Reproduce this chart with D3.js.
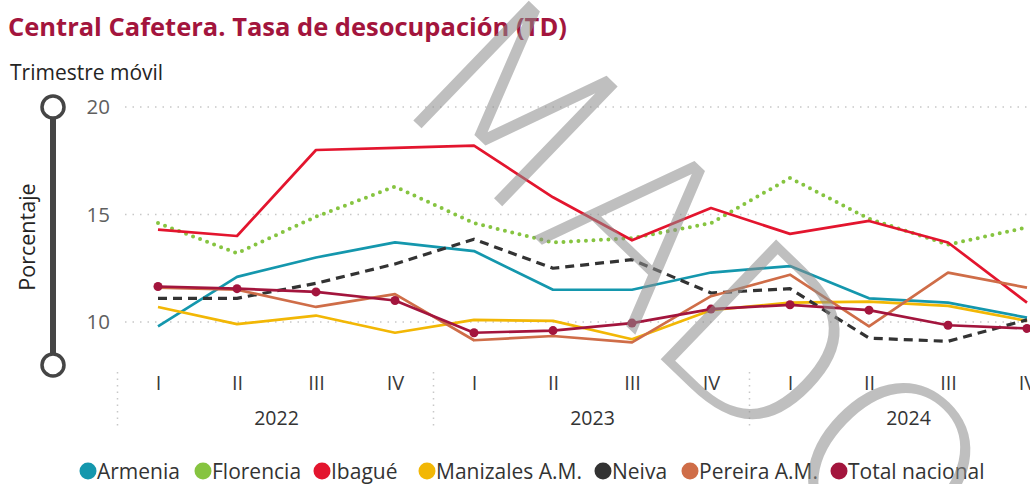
<!DOCTYPE html>
<html>
<head>
<meta charset="utf-8">
<script src="https://cdn.jsdelivr.net/npm/d3@7"></script>
<style>
  html, body { margin: 0; padding: 0; background: #fff; overflow: hidden; }
  svg { display: block; font-family: "Open Sans", "Liberation Sans", sans-serif; }
</style>
</head>
<body>
<svg id="chart" width="1080" height="484"></svg>
<script>
// quarters shown on the x axis
var quarters = ["I", "II", "III", "IV", "I", "II", "III", "IV", "I", "II", "III", "IV"];
var years = ["2022", "2023", "2024"];
var yTicks = [10, 15, 20];

// tasa de desocupacion, trimestre movil (%)
var armenia     = [9.8, 12.1, 13.0, 13.7, 13.3, 11.5, 11.5, 12.3, 12.6, 11.1, 10.9, 10.2];
var florencia   = [14.6, 13.2, 14.9, 16.3, 14.6, 13.7, 13.9, 14.6, 16.7, 14.8, 13.6, 14.4];
var ibague      = [14.3, 14.0, 18.0, 18.1, 18.2, 15.8, 13.8, 15.3, 14.1, 14.7, 13.7, 10.9];
var manizales   = [10.7, 9.9, 10.3, 9.5, 10.1, 10.05, 9.2, 10.55, 10.9, 10.95, 10.75, 10.05];
var neiva       = [11.1, 11.1, 11.8, 12.7, 13.85, 12.5, 12.9, 11.35, 11.55, 9.25, 9.1, 10.1];
var pereira     = [11.6, 11.5, 10.7, 11.3, 9.15, 9.35, 9.05, 11.2, 12.2, 9.8, 12.3, 11.6];
var totalNacional = [11.65, 11.55, 11.4, 11.0, 9.5, 9.6, 9.95, 10.6, 10.8, 10.55, 9.85, 9.7];

var seriesNames  = ["Armenia", "Florencia", "Ibagué", "Manizales A.M.", "Neiva", "Pereira A.M.", "Total nacional"];
var seriesValues = [armenia, florencia, ibague, manizales, neiva, pereira, totalNacional];
var seriesColors = ["#1497ad", "#86c440", "#e3152e", "#f2b705", "#333333", "#cf6d48", "#a3153d"];

var svg = d3.select("#chart");

var x = d3.scalePoint().domain(d3.range(quarters.length)).range([158, 1027]);
var y = d3.scaleLinear().domain([8, 20]).range([365, 107]);

// big grey watermark across the plot
function watermark() {
  svg.append("text")
    .attr("transform", "translate(444,36) rotate(44)")
    .attr("dy", "0.36em")
    .style("font-family", "'DejaVu Sans', sans-serif")
    .style("font-weight", 200)
    .style("font-size", "228px")
    .style("fill", "#8c8c8c")
    .style("opacity", 0.55)
    .text("MADO");
}

// title
svg.append("text")
  .attr("x", 8).attr("y", 36)
  .style("font-size", "25.5px").style("font-weight", 700)
  .style("fill", "#a3153d")
  .text("Central Cafetera. Tasa de desocupación (TD)");

svg.append("text")
  .attr("x", 10).attr("y", 80)
  .style("font-size", "21px")
  .style("fill", "#252423")
  .text("Trimestre móvil");

// slider decoration on the y axis
svg.append("line")
  .attr("x1", 53).attr("x2", 53).attr("y1", y(20)).attr("y2", y(8))
  .style("stroke", "#454545").style("stroke-width", 6);
svg.selectAll(".knob").data([20, 8]).enter().append("circle")
  .attr("class", "knob")
  .attr("cx", 53).attr("cy", function (d) { return y(d); }).attr("r", 11)
  .style("fill", "#fff").style("stroke", "#454545").style("stroke-width", 3.5);

svg.append("text")
  .attr("transform", "translate(35," + 237 + ") rotate(-90)")
  .attr("text-anchor", "middle")
  .style("font-size", "21.5px").style("fill", "#252423")
  .text("Porcentaje");

// gridlines
svg.selectAll(".grid").data(yTicks).enter().append("line")
  .attr("class", "grid")
  .attr("x1", 125).attr("x2", 1080)
  .attr("y1", function (d) { return y(d); }).attr("y2", function (d) { return y(d); })
  .style("stroke", "#c8c8c8").style("stroke-width", 1.5)
  .style("stroke-dasharray", "1.5,6");

// y axis labels
var yAxis = svg.append("g")
  .attr("transform", "translate(110,0)")
  .call(d3.axisLeft(y).tickValues(yTicks).tickSize(0).tickPadding(0));
yAxis.select(".domain").remove();
yAxis.selectAll("text")
  .style("font-family", "'Open Sans', sans-serif")
  .style("font-size", "20.5px").style("fill", "#5f5f5f");

// x axis quarter labels
var xAxis = svg.append("g")
  .attr("transform", "translate(0,376)")
  .call(d3.axisBottom(x).tickSize(0).tickPadding(0).tickFormat(function (i) { return quarters[i]; }));
xAxis.select(".domain").remove();
xAxis.selectAll("text")
  .style("font-family", "'Open Sans', sans-serif")
  .style("font-size", "20px").style("fill", "#3a3a3a");

// year labels and separators
var step = x.step();
svg.selectAll(".year").data(years).enter().append("text")
  .attr("class", "year")
  .attr("x", function (d, i) { return (x(i * 4) + x(i * 4 + 3)) / 2; })
  .attr("y", 425)
  .attr("text-anchor", "middle")
  .style("font-size", "19.5px").style("fill", "#333")
  .text(function (d) { return d; });

svg.selectAll(".sep").data(years).enter().append("line")
  .attr("class", "sep")
  .attr("x1", function (d, i) { return x(i * 4) - step / 2 - 1; })
  .attr("x2", function (d, i) { return x(i * 4) - step / 2 - 1; })
  .attr("y1", 372).attr("y2", 428)
  .style("stroke", "#c8c8c8").style("stroke-width", 1.5)
  .style("stroke-dasharray", "1.5,5");

// lines
var line = d3.line()
  .x(function (d, i) { return x(i); })
  .y(function (d) { return y(d); });

var series = seriesNames.map(function (n, k) {
  return { name: n, values: seriesValues[k], color: seriesColors[k] };
});

var g = svg.append("g");
g.selectAll(".serie").data(series).enter().append("path")
  .attr("class", "serie")
  .attr("d", function (d) { return line(d.values); })
  .style("fill", "none")
  .style("stroke", function (d) { return d.color; })
  .style("stroke-width", function (d) {
    if (d.name == "Florencia") return 4;
    if (d.name == "Neiva") return 3.2;
    return 2.7;
  })
  .style("stroke-linecap", function (d) { return d.name == "Florencia" ? "round" : "butt"; })
  .style("stroke-linejoin", "round")
  .style("stroke-dasharray", function (d) {
    if (d.name == "Florencia") return "0,7.5";
    if (d.name == "Neiva") return "9,6";
    return null;
  });

// markers for total nacional
g.selectAll(".dot").data(totalNacional).enter().append("circle")
  .attr("class", "dot")
  .attr("cx", function (d, i) { return x(i); })
  .attr("cy", function (d) { return y(d); })
  .attr("r", 4.5)
  .style("fill", seriesColors[6]);

// legend
var legendX = [88, 203, 322, 427, 603, 690, 839];
var legend = svg.selectAll(".legend").data(series).enter().append("g")
  .attr("class", "legend")
  .attr("transform", function (d, i) { return "translate(" + legendX[i] + ",471)"; });
legend.append("circle").attr("r", 8.5).style("fill", function (d) { return d.color; });
legend.append("text")
  .attr("x", 9).attr("dy", "0.36em")
  .style("font-size", "21px").style("fill", "#333")
  .text(function (d) { return d.name; });

watermark();
</script>
</body>
</html>
